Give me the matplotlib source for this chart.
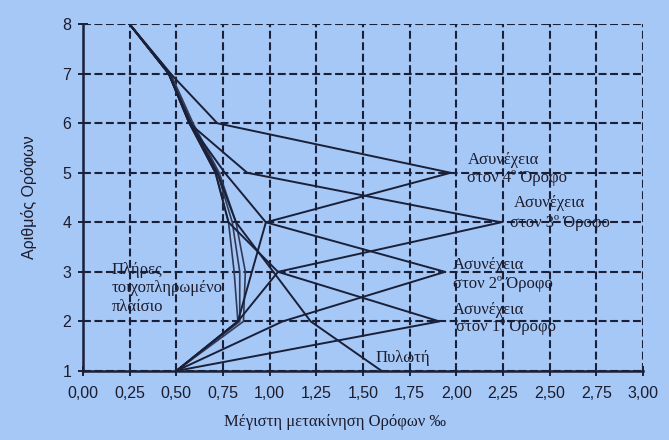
import numpy as np
import matplotlib.pyplot as plt
from matplotlib.ticker import FuncFormatter

# storeys (y axis)
storeys = [1, 2, 3, 4, 5, 6, 7, 8]

# full infilled frame, a few near identical runs
full_1 = [0.50, 0.83, 0.81, 0.78, 0.71, 0.57, 0.46, 0.25]
full_2 = [0.50, 0.84, 0.84, 0.80, 0.72, 0.58, 0.46, 0.25]
full_3 = [0.50, 0.86, 0.87, 0.82, 0.73, 0.59, 0.47, 0.25]

# discontinuity at storey k
disc_1 = [0.50, 1.91, 1.045, 0.78, 0.71, 0.57, 0.46, 0.25]
disc_2 = [0.50, 1.07, 1.94, 0.98, 0.76, 0.57, 0.46, 0.25]
disc_3 = [0.50, 0.83, 1.045, 2.24, 0.88, 0.57, 0.46, 0.25]
disc_4 = [0.50, 0.83, 0.905, 0.98, 1.97, 0.72, 0.47, 0.25]

# pilotis (open ground storey)
pilotis = [1.60, 1.22, 1.02, 0.82, 0.72, 0.58, 0.46, 0.25]

xticks = np.arange(0, 3.01, 0.25)
bg = '#a6c8f6'
ink = '#1a2038'

fig = plt.figure(figsize=(6.69, 4.40), dpi=100, facecolor=bg)
ax = fig.add_axes([0.124, 0.157, 0.837, 0.788], facecolor=bg)

for s in [full_1, full_2, full_3]:
    ax.plot(s, storeys, color='#303a58', lw=1.2)
for s in [disc_1, disc_2, disc_3, disc_4, pilotis]:
    ax.plot(s, storeys, color=ink, lw=1.4)

ax.set_xlim(0, 3)
ax.set_ylim(1, 8)
ax.set_xticks(xticks)
ax.set_yticks(storeys)
ax.xaxis.set_major_formatter(FuncFormatter(lambda v, p: f'{v:.2f}'.replace('.', ',')))
ax.grid(True, color=ink, ls=(0, (3.8, 1.7)), lw=1.5)
ax.set_axisbelow(True)
for sp in ['top', 'right']:
    ax.spines[sp].set_visible(False)
for sp in ['left', 'bottom']:
    ax.spines[sp].set_color(ink)
    ax.spines[sp].set_linewidth(1.8)
ax.tick_params(direction='inout', length=7, width=1.4, color=ink,
               labelsize=11.5, labelcolor='#1c1c2c')
ax.tick_params(axis='x', pad=7)
ax.tick_params(axis='y', pad=5)
for lab in ax.get_xticklabels() + ax.get_yticklabels():
    lab.set_family('Liberation Sans')

ax.set_ylabel('Αριθμός Ορόφων', family='Liberation Sans', fontsize=11.5,
              color='#1c1c2c', labelpad=18)
ax.set_xlabel('Μέγιστη μετακίνηση Ορόφων ‰', family='Liberation Serif',
              fontsize=12, color='#1c1c2c', labelpad=6)
ax.xaxis.set_label_coords(0.45, -0.125)

txt = dict(family='Liberation Serif', fontsize=12, color='#1c1c2c', va='center')
ax.text(2.06, 5.25, 'Ασυνέχεια', **txt)
ax.text(2.06, 4.89, 'στον 4º Όροφο', **txt)
ax.text(2.31, 4.39, 'Ασυνέχεια', **txt)
ax.text(2.29, 3.98, 'στον 3º Όροφο', **txt)
ax.text(1.98, 3.14, 'Ασυνέχεια', **txt)
ax.text(1.98, 2.75, 'στον 2º Όροφο', **txt)
ax.text(1.98, 2.23, 'Ασυνέχεια', **txt)
ax.text(2.00, 1.89, 'στον 1º Όροφο', **txt)
ax.text(1.565, 1.26, 'Πυλωτή', **txt)
ax.text(0.155, 3.04, 'Πλήρες', **txt)
ax.text(0.155, 2.67, 'τοιχοπληρωμένο', **txt)
ax.text(0.155, 2.29, 'πλαίσιο', **txt)

fig.savefig('out.png', dpi=100, facecolor=bg)
